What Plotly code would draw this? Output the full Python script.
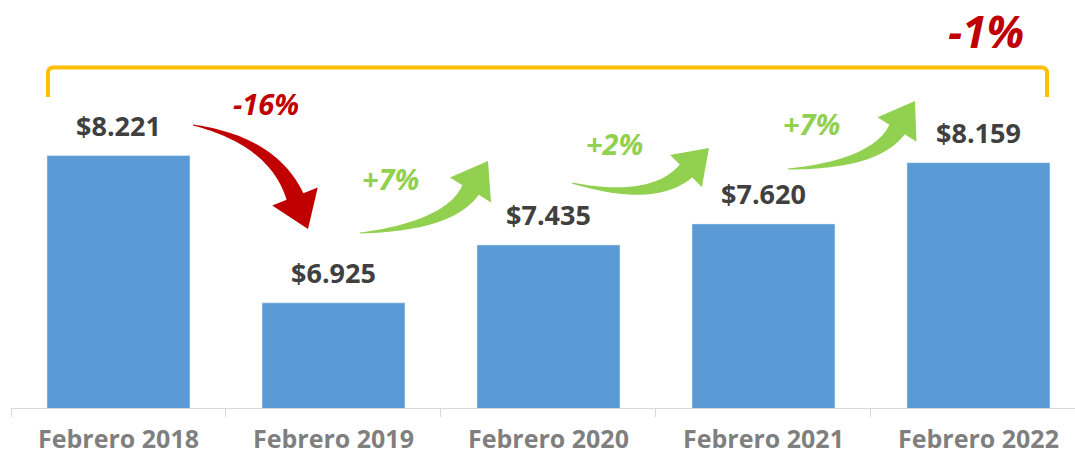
import math
import plotly.graph_objects as go

# ── Data ──────────────────────────────────────────────────────────────────────
categories = ["Febrero 2018", "Febrero 2019", "Febrero 2020", "Febrero 2021", "Febrero 2022"]
values = [8221, 6925, 7435, 7620, 8159]
change_labels = ["-16%", "+7%", "+2%", "+7%"]
change_up = [False, True, True, True]
total_label = "-1%"

# ── Style / layout constants ──────────────────────────────────────────────────
BAR_COLOR = "#5B9BD5"
RED = "#C00000"
GREEN = "#92D050"
GOLD = "#FFC000"
FONT = "Open Sans, Arial, sans-serif"

W, H = 1075, 456
MARGIN = dict(l=11, r=0, t=0, b=48)
X_RANGE = [-0.5, 4.449]
Y_RANGE = [6000, 9590]


def to_data(px, py):
    """canvas pixel -> data coords (used only for decorations)"""
    pw = W - MARGIN["l"] - MARGIN["r"]
    ph = H - MARGIN["t"] - MARGIN["b"]
    x = X_RANGE[0] + (px - MARGIN["l"]) / pw * (X_RANGE[1] - X_RANGE[0])
    y = Y_RANGE[0] + (H - MARGIN["b"] - py) / ph * (Y_RANGE[1] - Y_RANGE[0])
    return x, y


def path_from(points, close=True):
    d = []
    for i, (px, py) in enumerate(points):
        x, y = to_data(px, py)
        d.append(("M" if i == 0 else "L") + f"{x:.5f},{y:.3f}")
    return " ".join(d) + (" Z" if close else "")


def arrow_points(tail, ctrl, base, tip, shaft, head, n=40):
    left, right = [], []
    for k in range(n + 1):
        u = k / n
        bx = (1 - u) ** 2 * tail[0] + 2 * (1 - u) * u * ctrl[0] + u ** 2 * base[0]
        by = (1 - u) ** 2 * tail[1] + 2 * (1 - u) * u * ctrl[1] + u ** 2 * base[1]
        tx = 2 * (1 - u) * (ctrl[0] - tail[0]) + 2 * u * (base[0] - ctrl[0])
        ty = 2 * (1 - u) * (ctrl[1] - tail[1]) + 2 * u * (base[1] - ctrl[1])
        ln = math.hypot(tx, ty)
        nx, ny = -ty / ln, tx / ln
        w = (1 + (shaft - 1) * u) / 2
        left.append((bx + nx * w, by + ny * w))
        right.append((bx - nx * w, by - ny * w))
    dx, dy = tip[0] - base[0], tip[1] - base[1]
    ln = math.hypot(dx, dy)
    nx, ny = -dy / ln, dx / ln
    hb1 = (base[0] + nx * head / 2, base[1] + ny * head / 2)
    hb2 = (base[0] - nx * head / 2, base[1] - ny * head / 2)
    return left + [hb1, tip, hb2] + right[::-1]


# arrow geometry in canvas pixels: tail, control, head base, tip, shaft width, head width
ARROWS = [
    ((193, 125), (273, 141), (295, 196.5), (308, 229), 18, 49),
    ((360, 233), (449, 226), (470.5, 190), (488, 161), 19, 48),
    ((572, 183), (653, 203), (686, 171), (709, 148), 18, 45),
    ((788, 169), (875, 164.6), (897, 129.5), (915, 101), 18, 46),
]
LABEL_POS = [(266, 103), (390, 178), (614, 143), (811, 123)]
TOTAL_POS = (986, 31)

# ── Figure ────────────────────────────────────────────────────────────────────
fig = go.Figure(go.Bar(
    x=list(range(len(categories))), y=values,
    marker_color=BAR_COLOR,
    hovertemplate="%{customdata}: $%{y:,.0f}<extra></extra>",
    customdata=categories,
))

shapes = []
for (tail, ctrl, base, tip, shaft, head), up in zip(ARROWS, change_up):
    shapes.append(dict(
        type="path", xref="x", yref="y",
        path=path_from(arrow_points(tail, ctrl, base, tip, shaft, head)),
        fillcolor=GREEN if up else RED, line=dict(width=0), layer="above",
    ))

# bracket over the whole period
bx0, bx1, by_top, by_bot, r = 48, 1047, 67.5, 97, 5
bracket = [(bx0, by_bot), (bx0, by_top + r)]
for k in range(1, 7):
    a = math.pi / 2 * k / 6
    bracket.append((bx0 + r - r * math.cos(a), by_top + r - r * math.sin(a)))
bracket.append((bx1 - r, by_top))
for k in range(1, 7):
    a = math.pi / 2 * k / 6
    bracket.append((bx1 - r + r * math.sin(a), by_top + r - r * math.cos(a)))
bracket.append((bx1, by_bot))
shapes.append(dict(
    type="path", xref="x", yref="y", path=path_from(bracket, close=False),
    line=dict(color=GOLD, width=4), layer="above",
))

annotations = []
for i, v in enumerate(values):
    annotations.append(dict(
        x=i, y=v, xref="x", yref="y", text="$" + f"{v:,}".replace(",", "."),
        showarrow=False, yanchor="bottom", yshift=10,
        font=dict(family=FONT, size=27, color="#404040", weight="bold"),
    ))
for (px, py), txt, up in zip(LABEL_POS, change_labels, change_up):
    x, y = to_data(px, py)
    annotations.append(dict(
        x=x, y=y, xref="x", yref="y", text=txt, showarrow=False,
        font=dict(family=FONT, size=29, color=GREEN if up else RED,
                  weight="bold", style="italic"),
    ))
tx, ty = to_data(*TOTAL_POS)
annotations.append(dict(
    x=tx, y=ty, xref="x", yref="y", text=total_label, showarrow=False,
    font=dict(family=FONT, size=44, color=RED, weight="bold", style="italic"),
))

fig.update_layout(
    width=W, height=H,
    margin=MARGIN,
    plot_bgcolor="white", paper_bgcolor="white",
    bargap=0.335,
    showlegend=False,
    shapes=shapes,
    annotations=annotations,
    xaxis=dict(
        range=X_RANGE, tickvals=list(range(len(categories))), ticktext=categories,
        ticks="", showline=True, linecolor="#D9D9D9", linewidth=1,
        showgrid=False, zeroline=False, ticklabelstandoff=9,
        tickfont=dict(family=FONT, size=25, color="#7F7F7F", weight="bold"),
        minor=dict(tickmode="linear", tick0=-0.5, dtick=1, ticks="outside",
                   ticklen=8, tickwidth=1, tickcolor="#D9D9D9", showgrid=False),
    ),
    yaxis=dict(range=Y_RANGE, visible=False),
)

# drop the default page margin so the chart sits at the window origin
fig.write_html("out.html", config={"displayModeBar": False},
               post_script="document.body.style.margin='0';")
